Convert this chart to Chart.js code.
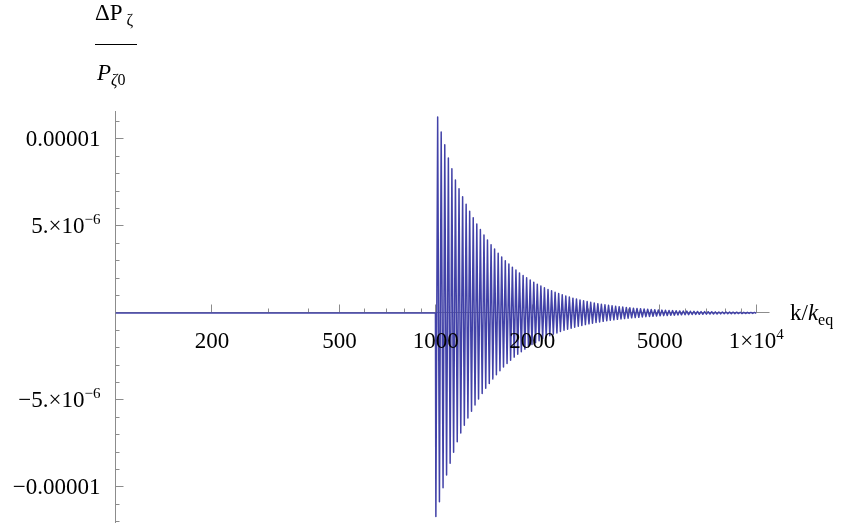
<!DOCTYPE html>
<html>
<head>
<meta charset="utf-8">
<script src="https://cdn.jsdelivr.net/npm/chart.js@4.4.1/dist/chart.umd.min.js"></script>
<style>
  html, body { margin: 0; padding: 0; background: #fff; }
  #wrap { position: relative; width: 843px; height: 524px; font-family: "Liberation Serif", "Times New Roman", serif; color: #000; }
  #plot { position: absolute; left: 0; top: 0; }
  .lbl { position: absolute; white-space: nowrap; line-height: 23px; font-size: 23px; }
  .lbl sub { font-size: 16px; vertical-align: -5px; line-height: 0; }
  .lbl sup { font-size: 15px; vertical-align: 9px; line-height: 0; }
  .xtick { transform: translateX(-50%); }
  .ytick { text-align: right; }
  #frac-bar { position: absolute; left: 95px; top: 44px; width: 42px; height: 1px; background: #000; }
</style>
</head>
<body>
<div id="wrap">
  <canvas id="plot" width="843" height="524"></canvas>
  <div class="lbl" id="num" style="left:95px; top:1px;">ΔP<sub>&nbsp;ζ</sub></div>
  <div id="frac-bar"></div>
  <div class="lbl" id="den" style="left:97px; top:61px;"><i>P</i><sub><i>ζ</i>0</sub></div>
  <div class="lbl" id="xtitle" style="left:790px; top:301px;">k/<i>k</i><sub>eq</sub></div>
</div>
<script>
// axis ticks
const xTickVals = [200, 500, 1000, 2000, 5000, 10000];
const xTickLabels = ["200", "500", "1000", "2000", "5000", "1×10<sup>4</sup>"];
const xMinorTicks = [300, 400, 600, 700, 800, 900, 3000, 4000, 6000, 7000, 8000, 9000];
const yTickVals = [-1e-5, -5e-6, 5e-6, 1e-5];
const yTickLabels = ["−0.00001", "−5.×10<sup>−6</sup>", "5.×10<sup>−6</sup>", "0.00001"];
const yMinorTicks = [-12e-6, -11e-6, -9e-6, -8e-6, -7e-6, -6e-6, -4e-6, -3e-6, -2e-6, -1e-6,
                     1e-6, 2e-6, 3e-6, 4e-6, 6e-6, 7e-6, 8e-6, 9e-6, 11e-6];

// flat part before the oscillation starts (k/k_eq)
const flatK = [100, 997];
const flatVal = [0, 0];

// k/k_eq of each crest / trough of the oscillation
const crestK = [
  1000, 1013, 1026, 1039, 1053, 1066, 1080, 1094, 1108, 1122, 1136, 1151, 1166, 1181, 1196, 1212, 1227, 1243,
  1259, 1275, 1292, 1308, 1325, 1342, 1359, 1377, 1395, 1413, 1431, 1449, 1468, 1487, 1506, 1525, 1545, 1565,
  1585, 1605, 1626, 1647, 1668, 1690, 1711, 1733, 1756, 1778, 1801, 1824, 1848, 1872, 1896, 1920, 1945, 1970,
  1995, 2021, 2047, 2073, 2100, 2127, 2154, 2182, 2210, 2239, 2268, 2297, 2326, 2356, 2387, 2417, 2448, 2480,
  2512, 2544, 2577, 2610, 2644, 2678, 2712, 2747, 2783, 2818, 2855, 2891, 2929, 2966, 3005, 3043, 3082, 3122,
  3162, 3203, 3244, 3286, 3328, 3371, 3415, 3459, 3503, 3548, 3594, 3640, 3687, 3734, 3783, 3831, 3881, 3931,
  3981, 4032, 4084, 4137, 4190, 4244, 4299, 4354, 4410, 4467, 4524, 4583, 4642, 4701, 4762, 4823, 4885, 4948,
  5012, 5076, 5142, 5208, 5275, 5343, 5412, 5481, 5552, 5623, 5696, 5769, 5843, 5919, 5995, 6072, 6150, 6229,
  6310, 6391, 6473, 6557, 6641, 6726, 6813, 6901, 6990, 7079, 7171, 7263, 7356, 7451, 7547, 7644, 7743, 7842,
  7943, 8046, 8149, 8254, 8360, 8468, 8577, 8688, 8799, 8913, 9027, 9144, 9261, 9380, 9501, 9624, 9747, 9873,
  10000
];

// ΔP/P at each crest, in units of 1e-6
const crestVal = [
  -11.7, 11.26, -10.85, 10.4, -10.04, 9.66, -9.31, 8.9, -8.64, 8.28, -8.0, 7.64, -7.4, 7.13, -6.90, 6.67, -6.45, 6.24,
  -6.04, 5.84, -5.65, 5.47, -5.29, 5.11, -4.95, 4.79, -4.63, 4.48, -4.33, 4.19, -4.05, 3.92, -3.79, 3.67, -3.55, 3.43,
  -3.32, 3.21, -3.11, 3.00, -2.91, 2.81, -2.72, 2.63, -2.54, 2.46, -2.38, 2.30, -2.23, 2.15, -2.08, 2.02, -1.95, 1.89,
  -1.82, 1.76, -1.71, 1.65, -1.60, 1.54, -1.49, 1.45, -1.40, 1.35, -1.31, 1.27, -1.22, 1.18, -1.15, 1.11, -1.07, 1.04,
  -1.00, 0.969, -0.937, 0.907, -0.877, 0.848, -0.821, 0.794, -0.768, 0.743, -0.719, 0.695, -0.672, 0.650, -0.629, 0.608, -0.589, 0.569,
  -0.551, 0.533, -0.516, 0.499, -0.482, 0.467, -0.451, 0.437, -0.422, 0.408, -0.395, 0.382, -0.370, 0.358, -0.346, 0.335, -0.324, 0.313,
  -0.303, 0.293, -0.283, 0.274, -0.265, 0.257, -0.248, 0.240, -0.232, 0.225, -0.217, 0.210, -0.203, 0.197, -0.190, 0.184, -0.178, 0.172,
  -0.166, 0.161, -0.155, 0.150, -0.145, 0.141, -0.136, 0.132, -0.127, 0.123, -0.119, 0.115, -0.111, 0.108, -0.104, 0.101, -0.098, 0.094,
  -0.091, 0.088, -0.085, 0.083, -0.080, 0.077, -0.075, 0.072, -0.070, 0.068, -0.065, 0.063, -0.061, 0.059, -0.057, 0.055, -0.054, 0.052,
  -0.050, 0.049, -0.047, 0.045, -0.044, 0.043, -0.041, 0.040, -0.038, 0.037, -0.036, 0.035, -0.034, 0.033, -0.032, 0.030, -0.029, 0.029,
  -0.028
];
const unit = 1e-6;

const lineColour = "rgb(66, 66, 168)";
const axisColour = "#8c8c8c";

window.addEventListener("DOMContentLoaded", () => {

    let points = [];
    for (let i = 0; i < flatK.length; i ++) {
        points.push({x: flatK[i], y: flatVal[i]});
    }
    for (let i = 0; i < crestK.length; i ++) {
        points.push({x: crestK[i], y: crestVal[i] * unit});
    }

    // Mathematica style axes: ticks point into the plot, minor ticks shorter
    const axisMarks = {
        id: "axisMarks",
        beforeDatasetsDraw(chart) {
            const {ctx, chartArea, scales: {x, y}} = chart;
            const ax = Math.floor(x.getPixelForValue(100)) + 0.5;
            const ay = Math.floor(y.getPixelForValue(0)) + 0.5;
            ctx.save();
            ctx.strokeStyle = axisColour;
            ctx.lineWidth = 1;
            ctx.beginPath();
            ctx.moveTo(ax, chartArea.top);
            ctx.lineTo(ax, chartArea.bottom);
            ctx.moveTo(chartArea.left, ay);
            ctx.lineTo(chartArea.right, ay);
            for (let i = 0; i < xTickVals.length; i ++) {
                const px = Math.floor(x.getPixelForValue(xTickVals[i])) + 0.5;
                ctx.moveTo(px, ay);
                ctx.lineTo(px, ay - 8);
            }
            for (let i = 0; i < xMinorTicks.length; i ++) {
                const px = Math.floor(x.getPixelForValue(xMinorTicks[i])) + 0.5;
                ctx.moveTo(px, ay);
                ctx.lineTo(px, ay - 4);
            }
            for (let i = 0; i < yTickVals.length; i ++) {
                const py = Math.floor(y.getPixelForValue(yTickVals[i])) + 0.5;
                ctx.moveTo(ax, py);
                ctx.lineTo(ax + 8, py);
            }
            for (let i = 0; i < yMinorTicks.length; i ++) {
                const py = Math.floor(y.getPixelForValue(yMinorTicks[i])) + 0.5;
                ctx.moveTo(ax, py);
                ctx.lineTo(ax + 4, py);
            }
            ctx.stroke();
            ctx.restore();
        }
    };

    const config = {
        type: "line",
        data: {
            datasets: [{
                label: "ΔP/P",
                data: points,
                borderColor: lineColour,
                borderWidth: 1.5,
                borderJoinStyle: "round",
                pointRadius: 0,
                tension: 0,
                fill: false
            }]
        },
        options: {
            responsive: false,
            animation: false,
            devicePixelRatio: 1,
            layout: {
                padding: {left: 115.5, top: 111, right: 73.5, bottom: 1}
            },
            plugins: {
                legend: {display: false},
                tooltip: {enabled: false}
            },
            scales: {
                x: {
                    type: "logarithmic",
                    display: false,
                    min: 100,
                    max: 11000
                },
                y: {
                    type: "linear",
                    display: false,
                    min: -12.07e-6,
                    max: 11.6e-6
                }
            }
        },
        plugins: [axisMarks]
    };

    const ctx = document.getElementById("plot").getContext("2d");
    const chart = new Chart(ctx, config);

    // Tick labels as text, placed with the chart's own scales
    const wrap = document.getElementById("wrap");
    const xs = chart.scales.x;
    const ys = chart.scales.y;
    const axisY = ys.getPixelForValue(0);
    const axisX = xs.getPixelForValue(100);

    for (let i = 0; i < xTickVals.length; i ++) {
        let div = document.createElement("div");
        div.className = "lbl xtick";
        div.innerHTML = xTickLabels[i];
        div.style.left = xs.getPixelForValue(xTickVals[i]) + "px";
        div.style.top = (axisY + 16) + "px";
        wrap.appendChild(div);
    }

    for (let i = 0; i < yTickVals.length; i ++) {
        let div = document.createElement("div");
        div.className = "lbl ytick";
        div.innerHTML = yTickLabels[i];
        div.style.right = (843 - axisX + 15) + "px";
        div.style.top = (ys.getPixelForValue(yTickVals[i]) - 12) + "px";
        wrap.appendChild(div);
    }
});
</script>
</body>
</html>
